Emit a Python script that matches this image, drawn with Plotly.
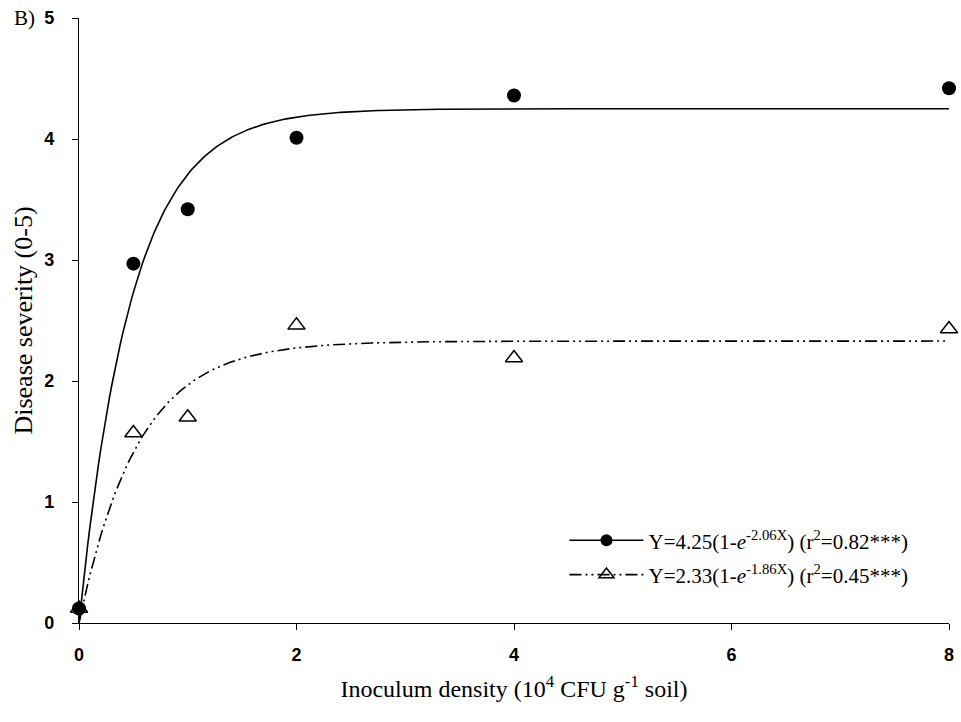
import numpy as np
import plotly.graph_objects as go

density = [0, 0.5, 1, 2, 4, 8]
severity_a = [0.12, 2.97, 3.42, 4.01, 4.36, 4.42]   # filled circles
severity_b = [0.12, 1.57, 1.70, 2.46, 2.19, 2.43]   # open triangles

# Fitted model parameters printed in the legend: Y = A(1 - e^(-kX))
fit_a = (4.25, 2.06)
fit_b = (2.33, 1.86)

x_ticks = [0, 2, 4, 6, 8]
y_ticks = [0, 1, 2, 3, 4, 5]

label_a = "Y=4.25(1-<i>e</i><sup>-2.06X</sup>) (r<sup>2</sup>=0.82***)"
label_b = "Y=2.33(1-<i>e</i><sup>-1.86X</sup>) (r<sup>2</sup>=0.45***)"

xf = np.linspace(0, 8, 400)
ya = fit_a[0] * (1 - np.exp(-fit_a[1] * xf))
yb = fit_b[0] * (1 - np.exp(-fit_b[1] * xf))

dash_b = "12px,4px,2px,4px,2px,4px"

fig = go.Figure()
fig.add_trace(go.Scatter(x=xf, y=ya, mode="lines", line=dict(color="black", width=1.6),
                         showlegend=False, cliponaxis=False))
fig.add_trace(go.Scatter(x=xf, y=yb, mode="lines", line=dict(color="black", width=1.6, dash=dash_b),
                         showlegend=False, cliponaxis=False))
fig.add_trace(go.Scatter(x=density, y=severity_a, mode="markers",
                         marker=dict(symbol="circle", size=14, color="black"),
                         showlegend=False, cliponaxis=False))
fig.add_trace(go.Scatter(x=density, y=severity_b, mode="markers",
                         marker=dict(symbol="triangle-up-open", size=15, color="black",
                                     line=dict(width=1.5, color="black")),
                         showlegend=False, cliponaxis=False))
# legend entries
fig.add_trace(go.Scatter(x=[None], y=[None], mode="lines+markers", name=label_a, legendgroup="a",
                         line=dict(color="black", width=1.6),
                         marker=dict(symbol="circle", size=12, color="black")))
fig.add_trace(go.Scatter(x=[None], y=[None], mode="lines+markers", name=label_b, legendgroup="b",
                         line=dict(color="black", width=1.6, dash=dash_b),
                         marker=dict(symbol="triangle-up-open", size=13, color="black",
                                     line=dict(width=1.5, color="black"))))

serif = "Liberation Serif, Times New Roman, serif"
sans = "Liberation Sans, Arial, sans-serif"

fig.update_layout(
    width=961, height=722,
    margin=dict(l=79, r=7, t=18, b=99),
    paper_bgcolor="white", plot_bgcolor="white",
    showlegend=True,
    legend=dict(x=0.558, y=0.17, xanchor="left", yanchor="top",
                font=dict(family=serif, size=21, color="black"),
                bgcolor="rgba(0,0,0,0)", itemwidth=74, tracegroupgap=4,
                traceorder="grouped"),
    xaxis=dict(range=[0, 8], tickvals=x_ticks, showgrid=False, zeroline=False,
               showline=True, linecolor="black", linewidth=1.2,
               ticks="outside", ticklen=6, tickcolor="black", ticklabelstandoff=9,
               tickfont=dict(family=sans, size=18, color="black", weight="bold"),
               title=dict(text="Inoculum density (10<sup>4</sup> CFU g<sup>-1</sup> soil)",
                          font=dict(family=serif, size=24, color="black"), standoff=16)),
    yaxis=dict(range=[0, 5], tickvals=y_ticks, showgrid=False, zeroline=False,
               showline=True, linecolor="black", linewidth=1.2,
               ticks="outside", ticklen=6, tickcolor="black", ticklabelstandoff=14,
               tickfont=dict(family=sans, size=18, color="black", weight="bold"),
               title=dict(text="Disease severity (0-5)",
                          font=dict(family=serif, size=26, color="black"), standoff=4)),
    annotations=[dict(text="B)", xref="paper", yref="paper", x=-0.077, y=1.0,
                      xanchor="left", yanchor="middle", showarrow=False,
                      font=dict(family=serif, size=21, color="black"))],
)

fig.write_html("out.html")
